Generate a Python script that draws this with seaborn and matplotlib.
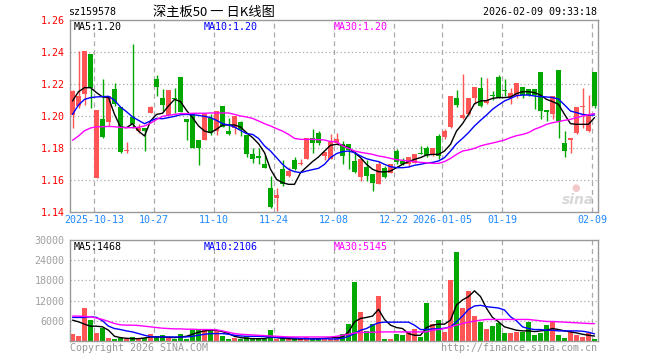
import numpy as np
import pandas as pd
import matplotlib
matplotlib.use("Agg")
import matplotlib.pyplot as plt
import seaborn as sns

# ---------------- data ----------------
opens = [1.2006,1.2063,1.2135,1.2385,1.1615,1.1983,1.1965,1.2167,1.2058,1.1779,
         1.1996,1.1906,1.1927,1.2020,1.2229,1.2115,1.2006,1.2115,1.2246,1.1979,
         1.2010,1.1848,1.1848,1.1990,1.1906,1.2063,1.1906,1.1927,1.1965,1.1881,
         1.1765,1.1752,1.1698,1.1552,1.1485,1.1667,1.1627,1.1725,1.1698,1.1733,
         1.1860,1.1896,1.1752,1.1733,1.1829,1.1823,1.1823,1.1719,1.1621,1.1681,
         1.1635,1.1577,1.1677,1.1646,1.1781,1.1719,1.1698,1.1708,1.1765,1.1802,
         1.1756,1.1875,1.1869,1.1931,1.2115,1.1985,1.2010,1.2115,1.2177,1.2083,
         1.2131,1.2244,1.2160,1.2115,1.2125,1.2181,1.2167,1.2167,1.2277,1.2035,
         1.2015,1.2285,1.1833,1.1848,1.1896,1.2056,1.1906,1.2277]
highs = [1.2160,1.2406,1.2406,1.2385,1.2035,1.2229,1.2123,1.2208,1.2058,1.1838,
         1.2448,1.1948,1.1927,1.2060,1.2256,1.2167,1.2160,1.2177,1.2246,1.1979,
         1.2010,1.1848,1.2010,1.2010,1.2031,1.2063,1.1990,1.1998,1.1969,1.1881,
         1.1802,1.1802,1.1756,1.1625,1.1552,1.1723,1.1683,1.1744,1.1729,1.1865,
         1.1917,1.1906,1.1777,1.1885,1.1896,1.1844,1.1827,1.1781,1.1731,1.1723,
         1.1635,1.1719,1.1688,1.1702,1.1792,1.1740,1.1744,1.1765,1.1813,1.1813,
         1.1798,1.1885,1.1917,1.2125,1.2160,1.2265,1.2115,1.2181,1.2244,1.2235,
         1.2156,1.2256,1.2229,1.2177,1.2208,1.2181,1.2167,1.2167,1.2277,1.2035,
         1.2125,1.2285,1.1906,1.1865,1.2056,1.2177,1.2131,1.2277]
lows = [1.1923,1.2052,1.2070,1.2052,1.1615,1.1865,1.1937,1.2063,1.1770,1.1769,
        1.1927,1.1896,1.1780,1.2020,1.2125,1.2031,1.2006,1.2021,1.2027,1.1848,
        1.1802,1.1692,1.1848,1.1881,1.1881,1.1931,1.1881,1.1885,1.1875,1.1744,
        1.1708,1.1702,1.1673,1.1423,1.1406,1.1563,1.1621,1.1660,1.1692,1.1733,
        1.1771,1.1821,1.1723,1.1733,1.1823,1.1698,1.1667,1.1646,1.1596,1.1596,
        1.1531,1.1573,1.1612,1.1646,1.1698,1.1694,1.1683,1.1708,1.1760,1.1744,
        1.1750,1.1729,1.1856,1.1923,1.2056,1.1979,1.2006,1.2077,1.2056,1.2077,
        1.2098,1.2110,1.2125,1.2073,1.2115,1.2115,1.2125,1.2042,1.1979,1.1969,
        1.1979,1.1860,1.1744,1.1771,1.1890,1.1927,1.1900,1.2052]
closes = [1.2156,1.2125,1.2406,1.2177,1.2035,1.1869,1.2123,1.2077,1.1777,1.1790,
          1.1948,1.1927,1.1906,1.2058,1.2181,1.2069,1.2160,1.2104,1.2027,1.1965,
          1.1802,1.1802,1.2010,1.1896,1.2031,1.1931,1.1885,1.1998,1.1910,1.1765,
          1.1729,1.1735,1.1677,1.1431,1.1504,1.1573,1.1656,1.1667,1.1704,1.1865,
          1.1833,1.1829,1.1777,1.1838,1.1854,1.1750,1.1785,1.1652,1.1731,1.1625,
          1.1583,1.1702,1.1619,1.1702,1.1715,1.1702,1.1744,1.1765,1.1760,1.1756,
          1.1798,1.1750,1.1906,1.2125,1.2069,1.2006,1.2110,1.2181,1.2063,1.2098,
          1.2125,1.2115,1.2156,1.2146,1.2208,1.2131,1.2131,1.2131,1.2031,1.2027,
          1.2125,1.1969,1.1781,1.1865,1.2056,1.2063,1.2010,1.2063]
volumes = [2000,1400,9800,6200,2300,3800,800,600,900,500,
           1100,700,1000,2000,1500,1700,1000,700,2000,600,
           3400,3400,3400,3200,3400,1400,600,900,600,1400,
           1000,900,600,3200,600,1100,800,1000,600,1200,
           1000,900,600,600,600,2000,5000,17600,8700,2900,
           5000,13400,500,500,2000,1700,2700,3500,1100,11300,
           5000,6200,2700,18200,26300,9800,14900,7400,5700,3500,
           4400,5200,2300,2300,2600,2600,5600,1700,2300,4700,
           5800,1700,800,2900,1700,1100,2300,500]
ma5 = [1.2094,1.2152,1.2177,1.2177,1.2146,1.2119,1.2115,1.2010,1.1931,1.1927,
       1.1952,1.1906,1.1875,1.1969,1.2010,1.2017,1.2063,1.2104,1.2090,1.2035,
       1.1990,1.1938,1.1906,1.1896,1.1917,1.1944,1.1944,1.1944,1.1931,1.1896,
       1.1865,1.1827,1.1771,1.1667,1.1604,1.1583,1.1573,1.1573,1.1646,1.1681,
       1.1715,1.1744,1.1781,1.1817,1.1823,1.1817,1.1802,1.1771,1.1740,1.1698,
       1.1667,1.1652,1.1650,1.1656,1.1677,1.1698,1.1715,1.1729,1.1740,1.1756,
       1.1760,1.1760,1.1781,1.1823,1.1906,1.1952,1.2010,1.2077,1.2094,1.2096,
       1.2110,1.2115,1.2115,1.2119,1.2140,1.2152,1.2152,1.2146,1.2131,1.2104,
       1.2090,1.2073,1.2010,1.1952,1.1948,1.1948,1.1948,1.1990]
ma10 = [1.2010,1.2069,1.2104,1.2115,1.2119,1.2121,1.2123,1.2098,1.2056,1.2027,
        1.1994,1.1973,1.1952,1.1969,1.1985,1.1983,1.1990,1.1998,1.2008,1.2010,
        1.2008,1.2004,1.1998,1.1990,1.1973,1.1952,1.1944,1.1931,1.1910,1.1890,
        1.1885,1.1860,1.1813,1.1781,1.1740,1.1698,1.1667,1.1652,1.1646,1.1656,
        1.1665,1.1673,1.1698,1.1740,1.1765,1.1777,1.1781,1.1771,1.1750,1.1733,
        1.1723,1.1715,1.1698,1.1683,1.1677,1.1677,1.1681,1.1692,1.1698,1.1706,
        1.1710,1.1719,1.1740,1.1781,1.1827,1.1860,1.1896,1.1938,1.1973,1.2006,
        1.2042,1.2069,1.2094,1.2110,1.2127,1.2131,1.2131,1.2125,1.2121,1.2119,
        1.2115,1.2106,1.2069,1.2031,1.2021,1.2010,1.2006,1.2006]
ma30 = [1.1848,1.1875,1.1908,1.1925,1.1933,1.1933,1.1935,1.1933,1.1929,1.1927,
        1.1927,1.1929,1.1938,1.1955,1.1978,1.1998,1.2004,1.2010,1.2015,1.2015,
        1.2017,1.2017,1.2017,1.2019,1.2019,1.2019,1.2019,1.2010,1.2000,1.1994,
        1.1985,1.1969,1.1952,1.1938,1.1921,1.1906,1.1885,1.1860,1.1854,1.1854,
        1.1854,1.1852,1.1850,1.1840,1.1840,1.1813,1.1798,1.1781,1.1773,1.1767,
        1.1760,1.1750,1.1744,1.1735,1.1727,1.1723,1.1719,1.1715,1.1710,1.1708,
        1.1704,1.1704,1.1715,1.1735,1.1760,1.1781,1.1788,1.1798,1.1813,1.1823,
        1.1831,1.1840,1.1850,1.1865,1.1877,1.1885,1.1896,1.1917,1.1931,1.1948,
        1.1958,1.1965,1.1973,1.1979,1.1990,1.2000,1.2008,1.2015]
vma5 = [6200,5700,5000,4400,4400,4200,3200,1400,1000,800,
        700,700,900,1200,1200,1200,1100,1000,1200,1400,
        2000,2600,3000,3200,3200,2800,2200,1400,1000,800,
        700,700,700,1200,1000,800,700,600,600,700,
        700,700,800,1000,1000,1200,2700,5700,6700,7000,
        7400,9400,6400,4700,4000,3700,2200,1700,1700,4000,
        4700,5000,5000,6200,10700,12200,13200,14900,13200,9700,
        7000,5700,4200,3700,3200,3000,3000,2800,3000,3200,
        3700,3400,3000,2700,2400,2000,1700,1468]
vma10 = [7000,7000,7000,7200,7000,6000,4400,3700,3400,3000,
         2700,2200,1700,1300,1200,1200,1200,1200,1200,1200,
         1400,1700,2000,2200,2200,2200,2000,1700,1500,1400,
         1400,1400,1300,1200,1100,1000,1000,900,800,700,
         600,600,700,600,600,800,1400,2200,3200,3700,
         4700,5400,5600,5600,5600,5600,5600,4700,3400,3400,
         3600,3600,3800,4200,5700,7400,9400,10400,10600,10200,
         10000,9800,9200,7200,6000,4200,3700,3400,3400,3200,
         3200,3000,3000,3000,3000,2900,2600,2106]
vma30 = [7400,7400,7300,7200,6800,6400,5800,5200,4800,4700,
         4700,4600,4400,4200,4000,3800,3700,3600,3600,3500,
         3500,3400,3400,3400,3300,3000,2600,2200,2000,1900,
         1800,1700,1600,1500,1400,1300,1200,1200,1200,1200,
         1200,1200,1200,1200,1400,1700,2000,2400,2500,2600,
         2600,2700,2700,2700,2700,2700,2700,2700,2700,2700,
         3200,3400,3700,4200,4700,5200,5600,5900,6200,6400,
         6400,6400,6400,6400,6400,6400,6400,6200,6000,5800,
         5800,5700,5600,5500,5400,5300,5200,5145]
tick_idx = [4, 14, 24, 34, 44, 54, 62, 72, 87]
tick_labels = ["2025-10-13", "10-27", "11-10", "11-24", "12-08", "12-22",
               "2026-01-05", "01-19", "02-09"]
price_ticks = [1.14, 1.16, 1.18, 1.20, 1.22, 1.24, 1.26]
vol_ticks = [6000, 12000, 18000, 24000, 30000]

# ---------------- style ----------------
sns.set_style("white")
plt.rcParams['font.family'] = ['DejaVu Sans Mono', 'Noto Sans CJK SC']
RED = '#FF5555'
GREEN = '#00A800'
GRID = '#AAAAAA'
SPINE = '#999999'
MONO = 'DejaVu Sans Mono'

n = len(closes)
idx = np.arange(n)
df = pd.DataFrame({'i': idx, 'o': opens, 'h': highs, 'l': lows, 'c': closes,
                   'v': volumes, 'ma5': ma5, 'ma10': ma10, 'ma30': ma30,
                   'vma5': vma5, 'vma10': vma10, 'vma30': vma30})
df['up'] = df['c'] >= df['o']
colors = np.where(df['up'], RED, GREEN)

W, H = 660, 360
fig = plt.figure(figsize=(W / 100, H / 100), dpi=100)
fig.patch.set_facecolor('white')

def fx(px):
    return px / W

def fy(py):
    return 1 - py / H

ax = fig.add_axes([fx(70), fy(212), fx(528), (212 - 20) / H])
axv = fig.add_axes([fx(70), fy(341), fx(528), (341 - 240) / H])

xlim = (-0.42, n - 0.42)
for a in (ax, axv):
    a.set_xlim(*xlim)
    for s in a.spines.values():
        s.set_color(SPINE)
        s.set_linewidth(1.0)
    a.tick_params(length=0)
    for t in tick_idx:
        a.axvline(t - 0.42, color=GRID, lw=0.9, ls=(0, (4, 3)), zorder=0)

# main candles
ax.set_ylim(1.14, 1.26)
for p in price_ticks[1:-1]:
    ax.axhline(p, color=GRID, lw=0.9, ls=(0, (1, 2)), zorder=0)
ax.vlines(df['i'], df['l'], df['h'], colors=colors, lw=1.0, zorder=2)
body_bot = np.minimum(df['o'], df['c'])
body_h = np.maximum(np.abs(df['c'] - df['o']), 0.0006)
ax.bar(df['i'], body_h, bottom=body_bot, width=0.8, color=colors,
       linewidth=0, zorder=3)
sns.lineplot(data=df, x='i', y='ma5', ax=ax, color='black', lw=1.0, zorder=4)
sns.lineplot(data=df, x='i', y='ma10', ax=ax, color='#0000FF', lw=1.0, zorder=4)
sns.lineplot(data=df, x='i', y='ma30', ax=ax, color='#FF00FF', lw=1.0, zorder=4)
ax.set_xlabel('')
ax.set_ylabel('')
ax.set_yticks(price_ticks)
ax.set_yticklabels([f"{p:.2f}" for p in price_ticks], color='#FF0000',
                   fontsize=7.2, family=MONO)
ax.tick_params(axis='y', pad=4)
ax.set_xticks([t - 0.42 for t in tick_idx])
ax.set_xticklabels(tick_labels, color='#1E88FF', fontsize=7.2, family=MONO)
ax.tick_params(axis='x', pad=2)

# volume
axv.set_ylim(0, 30000)
for v in vol_ticks[:-1]:
    axv.axhline(v, color=GRID, lw=0.9, ls=(0, (1, 2)), zorder=0)
axv.bar(df['i'], df['v'], width=0.8, color=colors, linewidth=0, zorder=2)
sns.lineplot(data=df, x='i', y='vma5', ax=axv, color='black', lw=1.0, zorder=4)
sns.lineplot(data=df, x='i', y='vma10', ax=axv, color='#0000FF', lw=1.0, zorder=4)
sns.lineplot(data=df, x='i', y='vma30', ax=axv, color='#FF00FF', lw=1.0, zorder=4)
axv.set_xlabel('')
axv.set_ylabel('')
axv.set_yticks(vol_ticks)
axv.set_yticklabels([str(v) for v in vol_ticks], color='#A0A0A0',
                    fontsize=7.2, family=MONO)
axv.tick_params(axis='y', pad=4)
axv.set_xticks([])

# texts
fig.text(fx(68), fy(12), "sz159578", fontsize=7.2, family=MONO,
         va='center', ha='left', color='black')
fig.text(fx(214), fy(12), "深主板50 一 日K线图", fontsize=9.5,
         family=['Noto Sans CJK SC', 'DejaVu Sans'], va='center', ha='center',
         color='black')
fig.text(fx(597), fy(12), "2026-02-09 09:33:18", fontsize=7.2, family=MONO,
         va='center', ha='right', color='black')
fig.text(fx(74), fy(27), f"MA5:{ma5[-1]:.2f}", fontsize=7.2, family=MONO,
         va='center', ha='left', color='black')
fig.text(fx(204), fy(27), f"MA10:{ma10[-1]:.2f}", fontsize=7.2, family=MONO,
         va='center', ha='left', color='#0000FF')
fig.text(fx(334), fy(27), f"MA30:{ma30[-1]:.2f}", fontsize=7.2, family=MONO,
         va='center', ha='left', color='#FF00FF')
fig.text(fx(74), fy(247), f"MA5:{vma5[-1]}", fontsize=7.2, family=MONO,
         va='center', ha='left', color='black')
fig.text(fx(204), fy(247), f"MA10:{vma10[-1]}", fontsize=7.2, family=MONO,
         va='center', ha='left', color='#0000FF')
fig.text(fx(334), fy(247), f"MA30:{vma30[-1]}", fontsize=7.2, family=MONO,
         va='center', ha='left', color='#FF00FF')
fig.text(fx(70), fy(348), "Copyright 2026 SINA.COM", fontsize=7.2, family=MONO,
         va='center', ha='left', color='#999999')
fig.text(fx(597), fy(348), "http://finance.sina.com.cn", fontsize=7.2,
         family=MONO, va='center', ha='right', color='#999999')
# sina watermark
fig.text(fx(594), fy(200), "sina", fontsize=10, family='DejaVu Sans',
         fontweight='bold', style='italic', va='center', ha='right',
         color='#D8D8D8', zorder=1)
fig.text(fx(576), fy(188), "●", fontsize=7, family='DejaVu Sans',
         va='center', ha='center', color='#F2C8C8', zorder=1)

fig.savefig("out.png", dpi=100, facecolor='white')
